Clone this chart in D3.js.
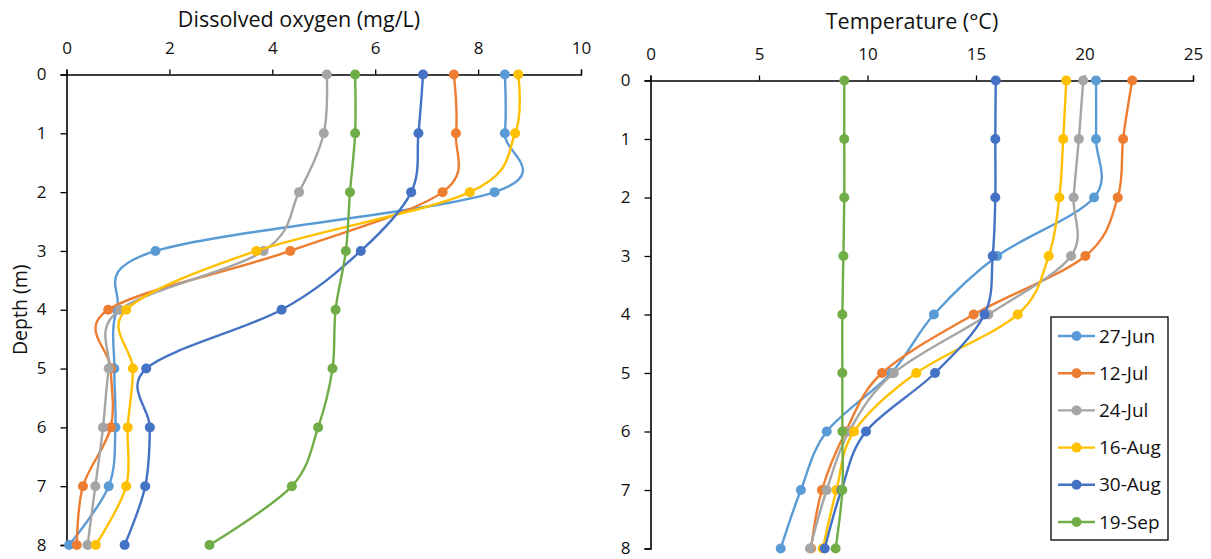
<!DOCTYPE html>
<html>
<head>
<meta charset="UTF-8">
<script src="https://cdn.jsdelivr.net/npm/d3@7"></script>
<style>
body { margin: 0; background: #fff; }
svg text { font-family: "Open Sans", sans-serif; fill: #111; }
.line { fill: none; stroke-width: 2.4px; }
</style>
</head>
<body>
<svg width="1211" height="559"></svg>
<script>
// depths sampled (m)
var depths = [0, 1, 2, 3, 4, 5, 6, 7, 8];
var dates = ["27-Jun", "12-Jul", "24-Jul", "16-Aug", "30-Aug", "19-Sep"];
var colors = ["#5B9BD5", "#ED7D31", "#A5A5A5", "#FFC000", "#4472C4", "#70AD47"];

// dissolved oxygen (mg/L), one array per date, by depth
var do27Jun = [8.52, 8.52, 8.32, 1.73, 0.98, 0.93, 0.95, 0.82, 0.05];
var do12Jul = [7.53, 7.57, 7.31, 4.35, 0.81, 0.86, 0.86, 0.32, 0.20];
var do24Jul = [5.06, 5.00, 4.52, 3.83, 1.03, 0.82, 0.71, 0.56, 0.41];
var do16Aug = [8.78, 8.72, 7.84, 3.69, 1.16, 1.29, 1.19, 1.16, 0.57];
var do30Aug = [6.93, 6.84, 6.70, 5.72, 4.18, 1.55, 1.62, 1.53, 1.13];
var do19Sep = [5.61, 5.61, 5.51, 5.43, 5.23, 5.17, 4.89, 4.38, 2.78];

// temperature (°C)
var t27Jun = [20.53, 20.53, 20.44, 15.98, 13.06, 11.10, 8.12, 6.93, 6.00];
var t12Jul = [22.20, 21.78, 21.53, 20.04, 14.89, 10.67, 9.00, 7.90, 7.40];
var t24Jul = [19.94, 19.74, 19.50, 19.38, 15.57, 11.21, 9.15, 8.12, 7.35];
var t16Aug = [19.16, 19.02, 18.84, 18.35, 16.92, 12.25, 9.38, 8.57, 7.94];
var t30Aug = [15.91, 15.89, 15.89, 15.77, 15.39, 13.11, 9.93, 8.80, 8.03];
var t19Sep = [8.93, 8.93, 8.93, 8.89, 8.84, 8.84, 8.84, 8.84, 8.53];

var doSeries = [do27Jun, do12Jul, do24Jul, do16Aug, do30Aug, do19Sep];
var tSeries = [t27Jun, t12Jul, t24Jul, t16Aug, t30Aug, t19Sep];

var doTicks = [0, 2, 4, 6, 8, 10];
var tTicks = [0, 5, 10, 15, 20, 25];

var svg = d3.select("svg");

function panel(opts) {
  var x = d3.scaleLinear().domain(opts.domain).range(opts.range);
  var y = d3.scaleLinear().domain([0, 8]).range(opts.yRange);
  var g = svg.append("g");

  // top axis
  var xa = g.append("g")
      .attr("transform", "translate(0," + y(0) + ")")
      .call(d3.axisTop(x).tickValues(opts.ticks).tickSize(5).tickPadding(16));
  xa.select(".domain").attr("stroke", "#000").attr("stroke-width", 1.3);
  xa.selectAll(".tick line").attr("stroke", "#000").attr("stroke-width", 1.3);
  xa.selectAll("text").style("font-size", "17px").attr("fill", "#111");

  // left axis (depth)
  var ya = g.append("g")
      .attr("transform", "translate(" + opts.range[0] + ",0)")
      .call(d3.axisLeft(y).ticks(8).tickSize(6).tickPadding(14).tickFormat(d3.format("d")));
  ya.select(".domain").attr("stroke", "#000").attr("stroke-width", 1.6);
  ya.selectAll(".tick line").attr("stroke", "#000").attr("stroke-width", 1.3);
  ya.selectAll("text").style("font-size", "17px").attr("fill", "#111").attr("dy", "0.3em");

  g.append("text")
      .attr("x", opts.titleX)
      .attr("y", opts.titleY)
      .attr("text-anchor", "middle")
      .style("font-size", "21.5px")
      .text(opts.title);

  var line = d3.line()
      .curve(d3.curveCardinal.tension(0))
      .x(function(d) { return x(d[0]); })
      .y(function(d) { return y(d[1]); });

  opts.series.forEach(function(vals, i) {
    var pts = vals.map(function(v, j) { return [v, depths[j]]; });
    g.append("path")
        .attr("class", "line")
        .attr("d", line(pts))
        .style("stroke", colors[i]);
    g.selectAll(".pt" + i)
      .data(pts)
      .enter().append("circle")
        .attr("cx", function(d) { return x(d[0]); })
        .attr("cy", function(d) { return y(d[1]); })
        .attr("r", 5)
        .attr("fill", colors[i]);
  });
  return y;
}

var yLeft = panel({domain: [0, 10], range: [66.5, 581], yRange: [74.5, 545], ticks: doTicks,
  series: doSeries, title: "Dissolved oxygen (mg/L)", titleX: 299, titleY: 27});
panel({domain: [0, 25], range: [650.5, 1193], yRange: [80.5, 548.5], ticks: tTicks,
  series: tSeries, title: "Temperature (\u00B0C)", titleX: 912, titleY: 29});

svg.append("text")
    .attr("transform", "translate(27," + yLeft(4) + ") rotate(-90)")
    .attr("text-anchor", "middle")
    .style("font-size", "19.5px")
    .text("Depth (m)");

// legend
var lg = svg.append("g");
lg.append("rect")
    .attr("x", 1051).attr("y", 317)
    .attr("width", 117).attr("height", 223)
    .attr("fill", "#fff").attr("stroke", "#000").attr("stroke-width", 1.3);

var item = lg.selectAll(".item")
  .data(dates)
  .enter().append("g")
    .attr("transform", function(d, i) { return "translate(1058," + (336 + i * 37.2) + ")"; });
item.append("line")
    .attr("x1", 0).attr("x2", 37)
    .attr("stroke", function(d, i) { return colors[i]; })
    .attr("stroke-width", 2.4);
item.append("circle")
    .attr("cx", 18.5).attr("r", 5)
    .attr("fill", function(d, i) { return colors[i]; });
item.append("text")
    .attr("x", 41).attr("dy", "0.35em")
    .style("font-size", "19px")
    .text(function(d) { return d; });
</script>
</body>
</html>
